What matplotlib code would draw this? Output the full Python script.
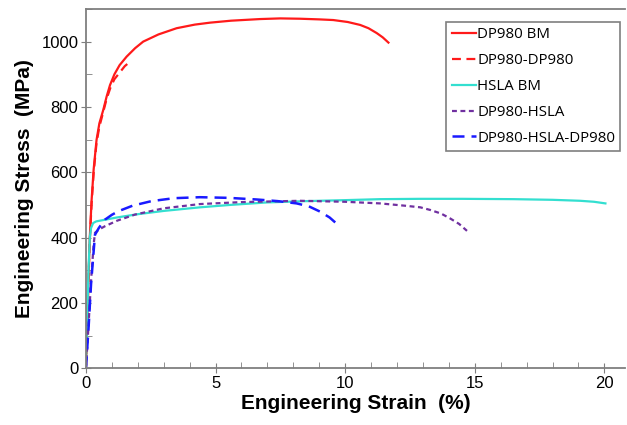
import matplotlib.pyplot as plt
from matplotlib.ticker import MultipleLocator

# engineering strain (%) / engineering stress (MPa)
dp980_bm_strain = [0, 0.05, 0.1, 0.15, 0.22, 0.3, 0.41, 0.52, 0.67, 0.8, 0.93, 1.1, 1.3,
                   1.57, 1.9, 2.21, 2.8, 3.5, 4.2, 4.79, 5.6, 6.72, 7.5, 8.26, 9.0, 9.54,
                   10.1, 10.58, 10.9, 11.22, 11.45, 11.67]
dp980_bm_stress = [0, 140, 280, 400, 515, 610, 699, 750, 791, 832, 867, 900, 928,
                   954, 980, 1000, 1022, 1041, 1052, 1058, 1064, 1069, 1071, 1070, 1068, 1066,
                   1060, 1051, 1041, 1026, 1013, 997]

dp980_dp980_strain = [0, 0.05, 0.1, 0.15, 0.22, 0.3, 0.41, 0.52, 0.67, 0.8, 0.95, 1.1,
                      1.3, 1.5, 1.65]
dp980_dp980_stress = [0, 130, 270, 390, 505, 600, 690, 740, 785, 825, 860, 885,
                      905, 925, 935]

hsla_bm_strain = [0, 0.05, 0.1, 0.15, 0.2, 0.28, 0.4, 0.73, 1.2, 2.0, 3.0, 4.4, 5.5,
                  6.98, 8.5, 10.0, 11.35, 12.9, 14.5, 16.5, 18.0, 19.07, 19.6, 20.04]
hsla_bm_stress = [0, 150, 300, 400, 430, 445, 450, 455, 462, 472, 482, 493, 500,
                  508, 512, 515, 518, 519, 519, 518, 516, 513, 510, 505]

dp980_hsla_strain = [0, 0.1, 0.2, 0.3, 0.35, 0.5, 0.73, 1.2, 1.9, 3.0, 4.4, 6.0, 8.26,
                     10.0, 11.35, 12.3, 12.9, 13.28, 13.7, 14.05, 14.4, 14.7]
dp980_hsla_stress = [0, 130, 270, 380, 415, 425, 435, 452, 471, 490, 503, 509, 513,
                     510, 505, 498, 493, 485, 474, 459, 442, 421]

dp980_hsla_dp980_strain = [0, 0.1, 0.2, 0.35, 0.5, 0.73, 1.0, 1.25, 1.8, 2.53, 3.4, 4.4,
                           5.5, 6.59, 7.4, 8.13, 8.6, 9.03, 9.4, 9.8]
dp980_hsla_dp980_stress = [0, 120, 260, 409, 430, 455, 470, 481, 498, 512, 521, 524,
                           522, 517, 512, 505, 496, 480, 462, 434]

fig = plt.figure(figsize=(6.27, 4.25), dpi=100)
ax = fig.add_axes([0.137, 0.133, 0.86, 0.846])

ax.plot(dp980_bm_strain, dp980_bm_stress, color='#ff1a1a', lw=1.6, label='DP980 BM')
ax.plot(dp980_dp980_strain, dp980_dp980_stress, color='#ff1a1a', lw=1.6,
        dashes=(4, 2.5), label='DP980-DP980')
ax.plot(hsla_bm_strain, hsla_bm_stress, color='#33dfd0', lw=1.6, label='HSLA BM')
ax.plot(dp980_hsla_strain, dp980_hsla_stress, color='#7030a0', lw=1.6,
        dashes=(2.2, 1.6), label='DP980-HSLA')
ax.plot(dp980_hsla_dp980_strain, dp980_hsla_dp980_stress, color='#1a1aff', lw=1.8,
        dashes=(4.8, 2.8), label='DP980-HSLA-DP980')

ax.set_xlim(0, 20.8)
ax.set_ylim(0, 1100)
ax.xaxis.set_major_locator(MultipleLocator(5))
ax.xaxis.set_minor_locator(MultipleLocator(1))
ax.yaxis.set_major_locator(MultipleLocator(200))
ax.yaxis.set_minor_locator(MultipleLocator(100))

gray = '#7f7f7f'
for side in ['left', 'bottom', 'top']:
    ax.spines[side].set_color(gray)
    ax.spines[side].set_linewidth(1.3)
ax.spines['right'].set_visible(False)
ax.tick_params(which='major', direction='inout', length=7, color=gray,
               labelsize=12, pad=2)
ax.tick_params(which='minor', direction='in', length=4, color=gray)
for lab in ax.get_xticklabels() + ax.get_yticklabels():
    lab.set_fontfamily('Liberation Sans')

ax.set_xlabel('Engineering Strain  (%)', fontsize=15, fontweight='bold',
              family='Liberation Sans', labelpad=2)
ax.set_ylabel('Engineering Stress  (MPa)', fontsize=15, fontweight='bold',
              family='Liberation Sans', labelpad=5)

leg = ax.legend(loc='upper right', bbox_to_anchor=(0.991, 0.963), fancybox=False,
                edgecolor=gray, framealpha=1, handlelength=1.6, handletextpad=0.1,
                labelspacing=0.72, borderpad=0.35, borderaxespad=0,
                prop={'family': 'Open Sans', 'size': 10.8})
leg.get_frame().set_linewidth(1.2)

fig.savefig('out.png', dpi=100)
